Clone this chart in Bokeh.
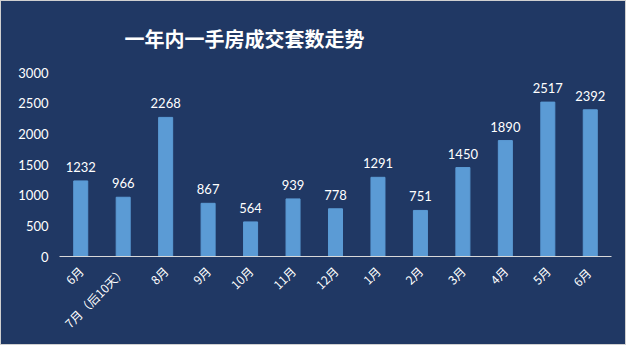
from bokeh.plotting import figure
from bokeh.models import ColumnDataSource, LabelSet
from bokeh.core.properties import value
from bokeh.embed import file_html
from bokeh.resources import INLINE
from math import pi

categories = ["6月", "7月（后10天）", "8月", "9月", "10月", "11月", "12月",
              "1月", "2月", "3月", "4月", "5月", "6月 "]
values = [1232, 966, 2268, 867, 564, 939, 778, 1291, 751, 1450, 1890, 2517, 2392]
labels = [str(v) for v in values]
title_text = "一年内一手房成交套数走势"

BG = "#203864"
BAR = "#5b9bd5"

src = ColumnDataSource(dict(cat=categories, val=values, lab=labels))

p = figure(x_range=categories, y_range=(0, 3000), width=626, height=345,
           output_backend="svg", toolbar_location=None,
           min_border_left=58, min_border_right=16, min_border_top=71,
           min_border_bottom=90)
p.styles = {"background-color": BG, "border": "1px solid #d0d0d0"}
p.background_fill_color = BG
p.border_fill_color = BG
p.outline_line_color = None
p.grid.grid_line_color = None

p.vbar(x="cat", top="val", width=0.33, color=BAR, source=src)

p.add_layout(LabelSet(x="cat", y="val", text="lab", source=src,
                      text_align="center", text_baseline="bottom", y_offset=9,
                      text_color="white", text_font_size="13px",
                      text_font=value("Lato")))

p.yaxis.ticker = [0, 500, 1000, 1500, 2000, 2500, 3000]
p.yaxis.axis_line_color = None
p.yaxis.major_tick_line_color = None
p.yaxis.minor_tick_line_color = None
p.yaxis.major_label_text_color = "white"
p.yaxis.major_label_text_font = "Lato"
p.yaxis.major_label_text_font_size = "13px"
p.yaxis.major_label_standoff = 5

p.xaxis.axis_line_color = "#d9d9d9"
p.xaxis.axis_line_width = 1
p.xaxis.major_tick_line_color = None
p.xaxis.minor_tick_line_color = None
p.xaxis.major_label_orientation = pi / 4
p.xaxis.major_label_text_color = "white"
p.xaxis.major_label_text_font = "Noto Sans CJK SC"
p.xaxis.major_label_text_font_size = "12px"
p.xaxis.major_label_standoff = 6

p.title.text = title_text
p.title.align = "left"
p.title.offset = 65
p.title.standoff = 40
p.title.text_color = "white"
p.title.text_font = "Noto Sans CJK SC"
p.title.text_font_size = "20px"
p.title.text_font_style = "bold"

open("out.html", "w").write(file_html(p, INLINE))
